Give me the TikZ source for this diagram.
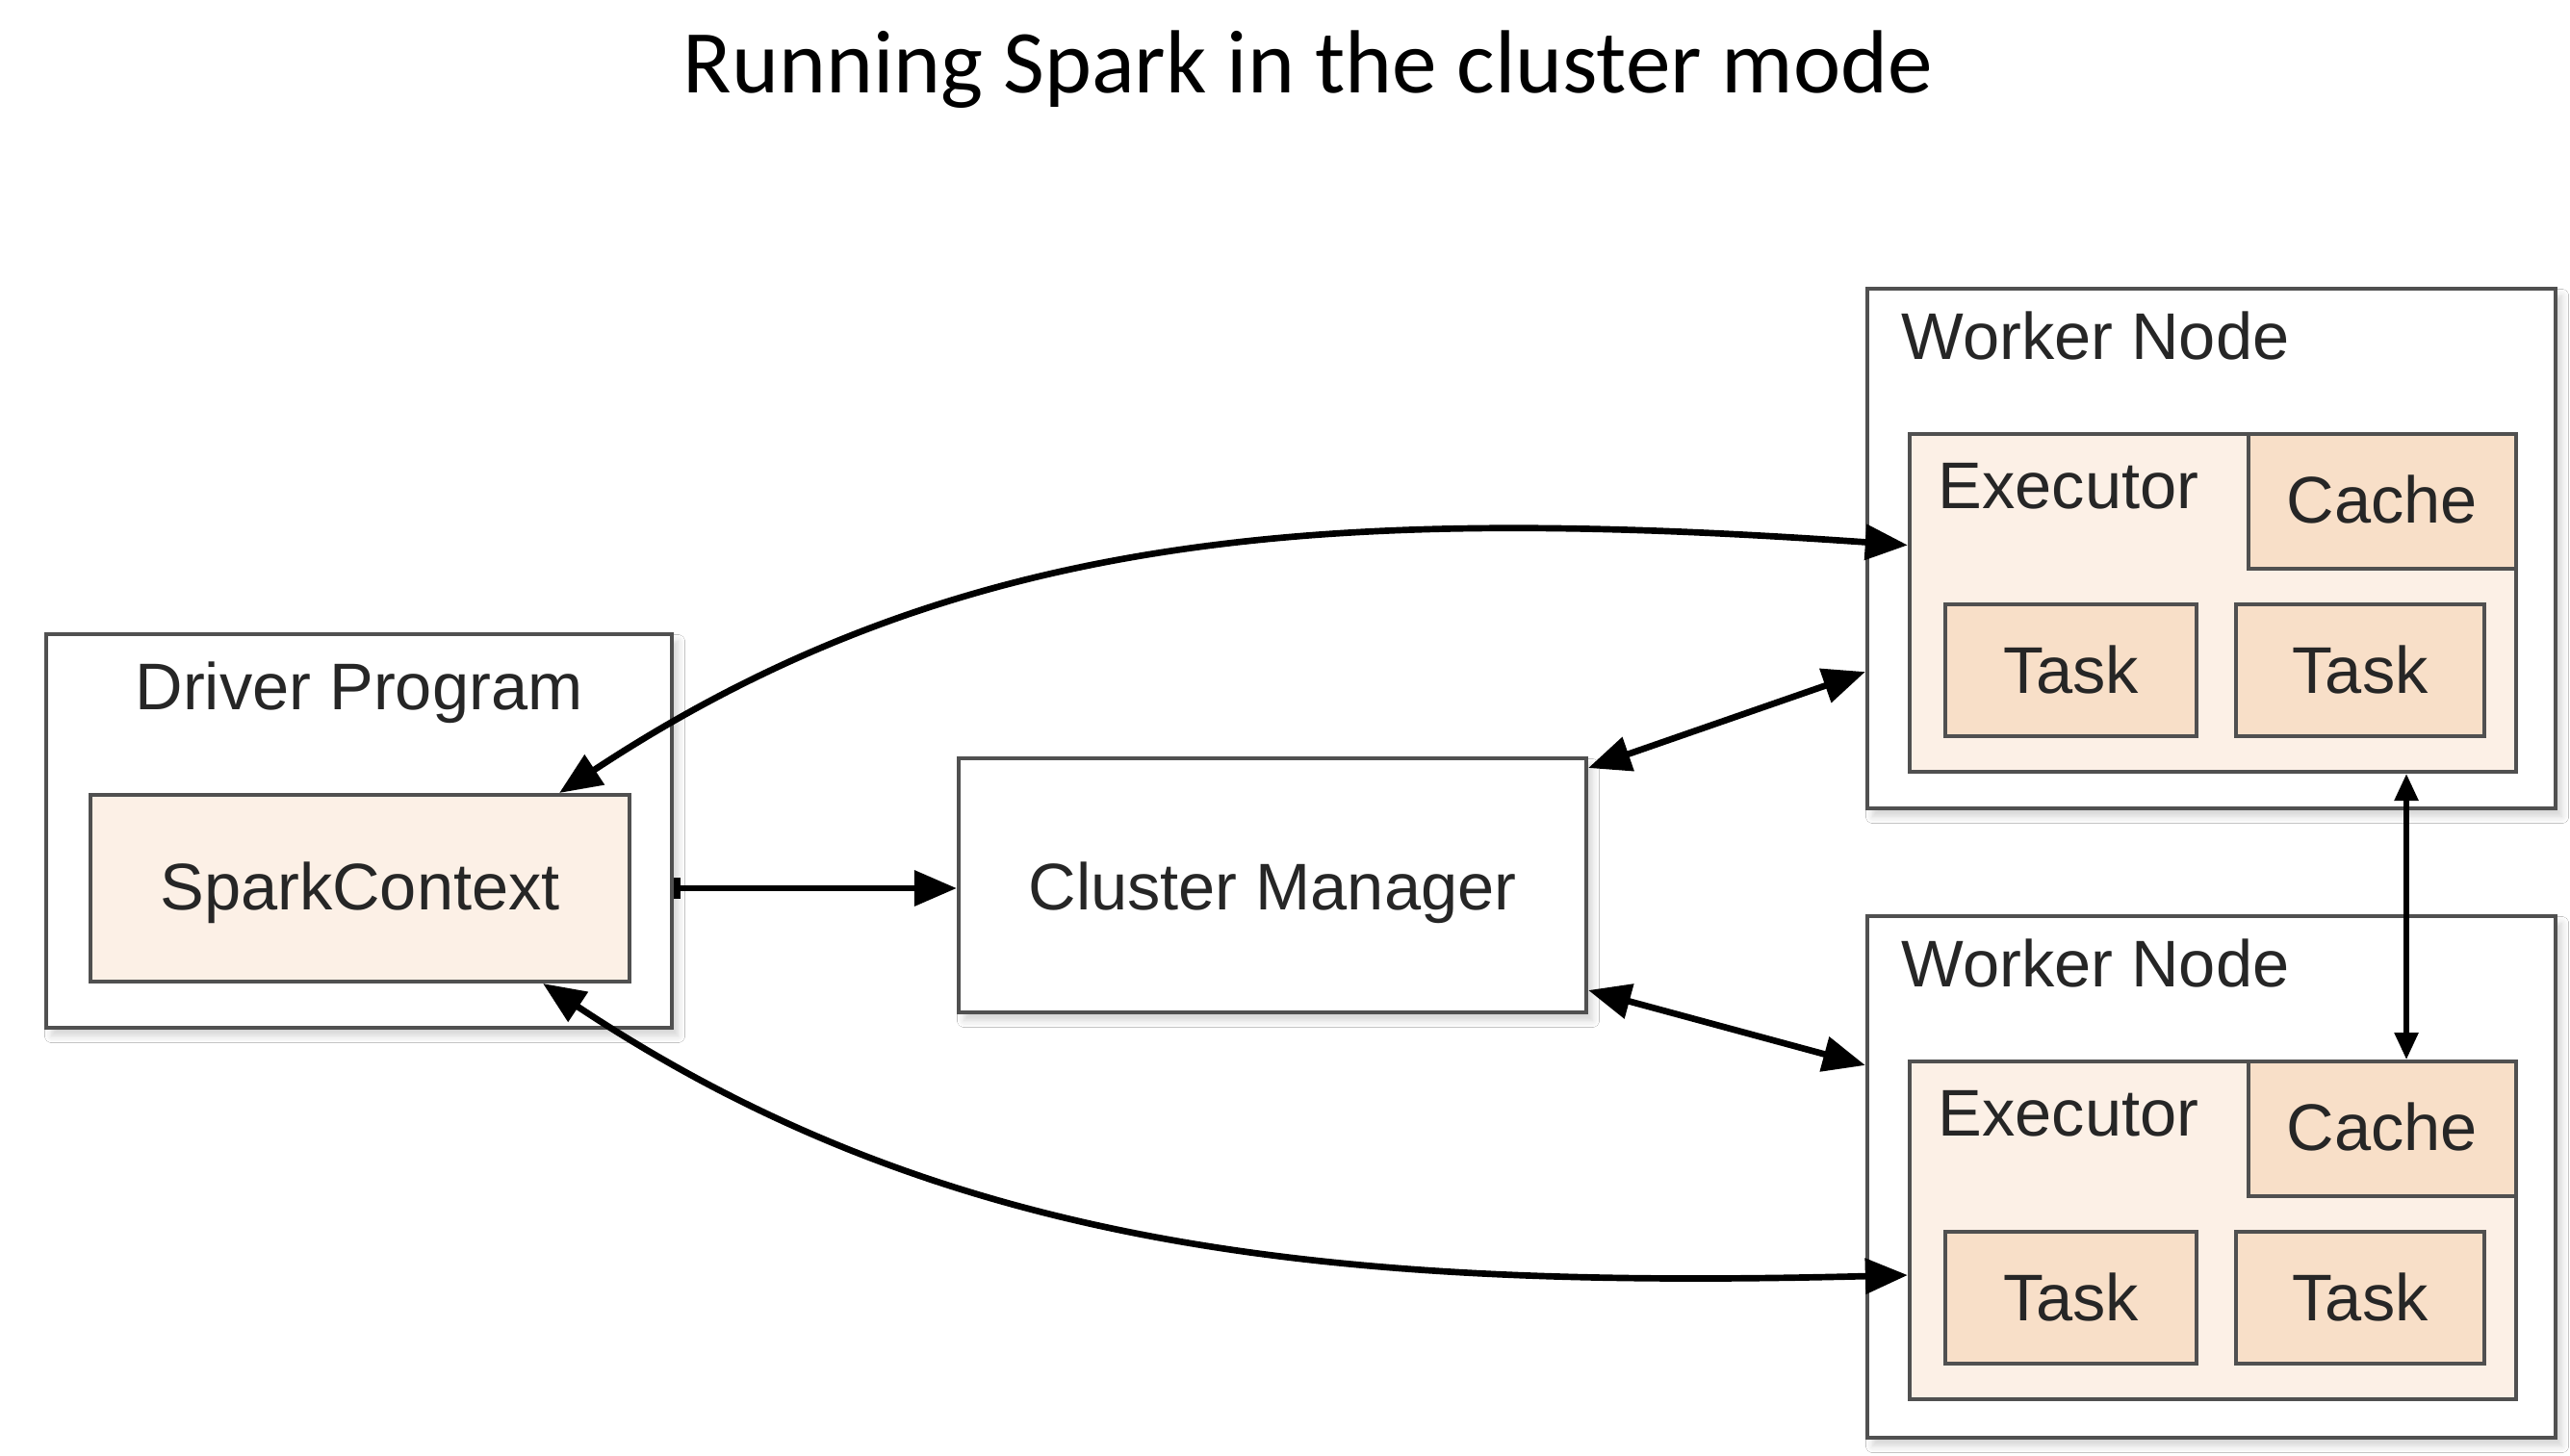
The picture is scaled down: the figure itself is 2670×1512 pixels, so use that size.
\documentclass[tikz,border=0pt]{standalone}
\usepackage{fontspec}
\setmainfont{Liberation Sans}
\newfontfamily\titlefont{Carlito}
\usetikzlibrary{arrows.meta,shadows.blur,calc}
\definecolor{boxline}{RGB}{80,80,80}
\definecolor{lightpeach}{RGB}{252,240,230}
\definecolor{peach}{RGB}{248,223,200}
\tikzset{
  outerbox/.style={draw=boxline, line width=1.1pt, fill=white, inner sep=0pt,
    blur shadow={shadow xshift=0.06cm, shadow yshift=-0.08cm, shadow blur steps=6, shadow opacity=18}},
  execbox/.style={draw=boxline, line width=1.1pt, fill=lightpeach, inner sep=0pt},
  taskbox/.style={draw=boxline, line width=1.1pt, fill=peach, inner sep=0pt},
  lbl/.style={font=\fontsize{19.5pt}{22pt}\selectfont, text=black!85, inner sep=0pt},
  conn/.style={line width=1.9pt, -{Triangle[length=0.44cm,width=0.36cm]}},
  bconn/.style={line width=1.9pt, {Triangle[length=0.44cm,width=0.36cm]}-{Triangle[length=0.44cm,width=0.36cm]}},
  sconn/.style={line width=1.6pt, {Triangle[length=0.28cm,width=0.24cm]}-{Triangle[length=0.28cm,width=0.24cm]}},
}
\begin{document}
\begin{tikzpicture}[x=0.01cm,y=-0.01cm]
\useasboundingbox[fill=white] (0,0) rectangle (2670,1512);

% title
\node[font=\titlefont\fontsize{26.5pt}{30pt}\selectfont, anchor=base, inner sep=0pt] (title) at (1359,97) {Running Spark in the cluster mode};

% driver
\node[outerbox, minimum width=6.50cm, minimum height=4.09cm] (driver) at (373,863.5) {};
\node[lbl, anchor=base] (driverlbl) at (373,737) {Driver Program};
\node[execbox, minimum width=5.60cm, minimum height=1.94cm] (sc) at (374,923) {};
\node[lbl, anchor=base] (sclbl) at (374,945) {SparkContext};

% cluster manager
\node[outerbox, minimum width=6.52cm, minimum height=2.64cm] (cm) at (1322,920) {};
\node[lbl, anchor=base] (cmlbl) at (1322,945) {Cluster Manager};

% worker 1
\node[outerbox, minimum width=7.15cm, minimum height=5.40cm] (w1) at (2297.5,570) {};
\node[lbl, anchor=base west] (w1lbl) at (1975,373) {Worker Node};
\node[execbox, minimum width=6.30cm, minimum height=3.51cm] (exec1) at (2299,626.5) {};
\node[lbl, anchor=base west] (exec1lbl) at (2013,528) {Executor};
\node[taskbox, minimum width=2.78cm, minimum height=1.40cm] (cache1) at (2475,521) {};
\node[lbl, anchor=base] (cache1lbl) at (2475,543) {Cache};
\node[taskbox, minimum width=2.61cm, minimum height=1.37cm] (t1a) at (2151.5,696.5) {};
\node[lbl, anchor=base] (t1albl) at (2151.5,720) {Task};
\node[taskbox, minimum width=2.58cm, minimum height=1.37cm] (t1b) at (2452,696.5) {};
\node[lbl, anchor=base] (t1blbl) at (2452,720) {Task};

% worker 2
\node[outerbox, minimum width=7.15cm, minimum height=5.42cm] (w2) at (2297.5,1223) {};
\node[lbl, anchor=base west] (w2lbl) at (1975,1025) {Worker Node};
\node[execbox, minimum width=6.30cm, minimum height=3.51cm] (exec2) at (2299,1278.5) {};
\node[lbl, anchor=base west] (exec2lbl) at (2013,1180) {Executor};
\node[taskbox, minimum width=2.78cm, minimum height=1.40cm] (cache2) at (2475,1173) {};
\node[lbl, anchor=base] (cache2lbl) at (2475,1195) {Cache};
\node[taskbox, minimum width=2.61cm, minimum height=1.37cm] (t2a) at (2151.5,1348.5) {};
\node[lbl, anchor=base] (t2albl) at (2151.5,1372) {Task};
\node[taskbox, minimum width=2.58cm, minimum height=1.37cm] (t2b) at (2452,1348.5) {};
\node[lbl, anchor=base] (t2blbl) at (2452,1372) {Task};

% connectors
\draw[line width=1.9pt, {Bar[width=0.22cm,length=0.05cm]}-{Triangle[length=0.44cm,width=0.36cm]}]
  (sc.east -| driver.east) -- (sc.east -| cm.west);

\draw[bconn] ([xshift=-0.75cm]sc.north east) .. controls (999,548) and (1386,525) .. ([yshift=0.6cm]exec1.west);
\draw[bconn] ([xshift=-0.92cm]sc.south east) .. controls (982,1300) and (1386,1340) .. ([yshift=-0.465cm]exec2.west);

\draw[bconn] ([yshift=-0.12cm]cm.north east) -- ([yshift=-1.28cm]w1.west);
\draw[bconn] ([yshift=0.25cm]cm.south east) -- ([yshift=1.16cm]w2.west);

\coordinate (c2top) at ([xshift=0.25cm]cache2.north);
\draw[sconn] (exec1.south -| c2top) -- (c2top);
\end{tikzpicture}
\end{document}
